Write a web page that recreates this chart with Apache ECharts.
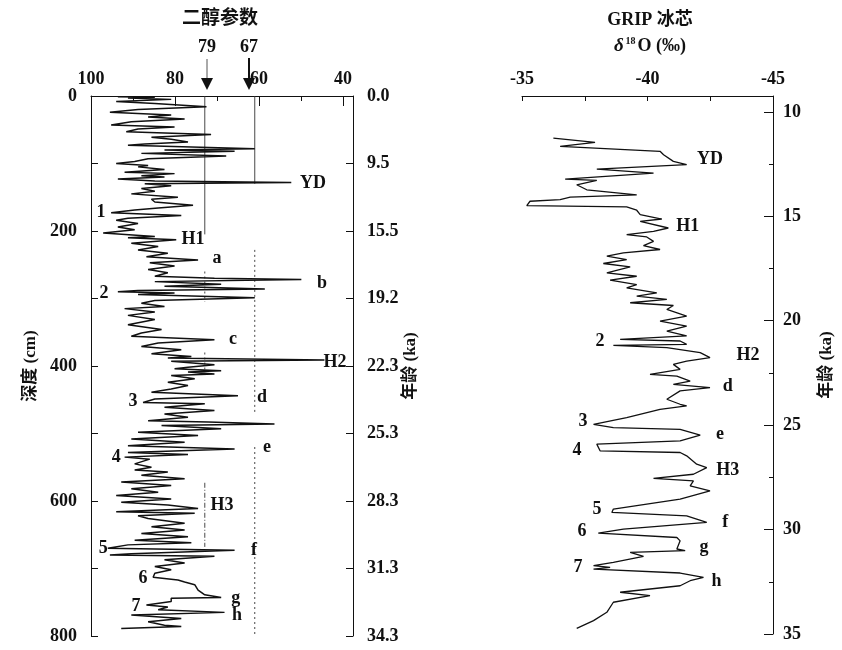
<!DOCTYPE html>
<html><head><meta charset="utf-8">
<script src="https://cdn.jsdelivr.net/npm/echarts@6.0.0/dist/echarts.min.js"></script>
<style>html,body{margin:0;padding:0;background:#fff}#c{width:842px;height:650px}</style>
</head><body><div id="c"></div>
<script>
// ---- Left panel: diol parameter vs depth ----
const diolDepth = [1,2,3,5,8,11,16,20,24,28,31,34,38,43,46,49,53,57,61,64,68,71,73,78,80,82,85,89,93,97,
100,103,105,109,113,115,118,120,123,126,128,130,133,137,141,145,150,153,157,162,166,169,173,177,181,184,189,194,198,
203,208,210,213,218,223,228,233,238,243,247,252,257,262,267,270,272,275,279,282,286,288,290,292,294,299,
303,307,312,315,320,325,331,339,346,351,356,361,366,371,376,382,386,388,391,393,398,
402,404,407,409,412,414,419,424,429,434,439,444,449,454,456,461,466,471,476,481,483,486,488,493,498,
503,508,513,518,523,528,531,535,538,545,550,554,557,562,567,572,577,582,587,592,597,
602,606,611,616,618,622,626,633,638,643,648,653,658,662,665,670,673,678,680,682,687,692,697,
702,707,713,717,720,724,732,739,743,744,749,754,757,761,765,769,774,779,784,786,789];
const diolValue = [93.6,84.8,91.2,80.9,94,84.8,72.5,88.8,95.5,80.9,86.4,77.7,90.4,95.2,80.1,88.8,91.6,71.4,85.6,80.9,76.9,87.2,91.2,61.0,82.5,65.8,88,67.8,86.4,89.6,
94,86.4,88.8,82.5,92,80.1,88,82.5,93.6,84.8,52.3,87.2,80.9,88,84.8,90.4,79.3,85.6,84.8,75.7,84,89.6,95.2,78.5,91.2,94,88.8,93.6,89.6,
97.1,84.8,91.2,79.7,90.4,84,88.8,81.7,86.8,74.5,86,80.1,86.4,81.7,84.8,70.6,49.9,84.8,69,82.5,58.6,88.8,93.6,80.1,88.8,61,
84.8,88,82.5,92,84.8,91.2,84.8,91.2,83.2,88,90.4,70.6,84,88,78.5,85.6,76.1,81.7,44.4,80.9,70.6,
76.9,80.1,69,76.9,70.6,80.9,75.3,81.7,76.9,80.9,85.6,65,84.8,87.6,72.9,82.5,70.6,82.5,76.9,86.4,72.1,56.3,83.2,69,88.8,
74.5,90.4,77.7,91.2,65.8,91.2,76.9,92,86,89.6,85.6,89.6,81.7,88,77.7,92.8,80.9,90.4,84,94,80.9,
92.8,81.7,74.5,94,75.3,88.8,86.4,77.7,85.6,77.7,88,76.9,89.6,76.1,91.2,96,65.8,90.4,95.5,70.6,82.5,77.7,84.8,
80.9,84.8,85.2,79.3,77.7,75.3,74.5,72.9,69,80.9,80.9,86.8,81.7,84,68.2,90.4,78.5,86.4,82.5,78.5,92.8];
const depthTicks = [0,100,200,300,400,500,600,700,800];
const ageTickLabels = ['0.0','9.5','15.5','19.2','22.3','25.3','28.3','31.3','34.3'];
const diolMajorTicks = [100,80,60,40];
const diolMinorTicks = [90,70,50];
const thresholdNames = ['79','67'];
// threshold guide segments: [axis value, depth from, depth to, line type]
const thresholdSegments = [
  [72.9,0,205,'solid'],[72.9,260,305,'dotted'],[72.9,380,405,'dotted'],[72.9,573,668,'dashed'],
  [61.0,0,130,'solid'],[61.0,228,470,'dotted'],[61.0,520,800,'dotted']
];
const leftNotes = [['YD',47.1,129],['1',97.6,173],['H1',75.7,213],['a',70,241],['b',45,277],['2',96.9,292],
  ['c',66.2,361],['H2',41.9,394],['d',59.3,446],['3',90,453],['e',58.1,520],['4',94,535],['H3',68.8,607],
  ['5',97.1,670],['f',61.2,673],['6',87.6,714],['g',65.5,744],['7',89.3,756],['h',65.2,769]];

// ---- Right panel: GRIP ice core d18O vs age ----
const gripAge = [11.26,11.46,11.65,11.89,12.05,12.37,12.53,12.74,12.93,13.22,13.28,13.49,13.73,13.97,14.08,14.2,14.28,14.49,14.55,14.71,14.92,
15.13,15.24,15.56,15.72,15.88,15.99,16.2,16.4,16.59,16.75,16.91,17.07,17.26,17.42,17.71,17.87,18.06,18.27,18.43,18.67,18.82,18.98,19.14,19.27,
19.46,19.78,20.02,20.26,20.5,20.73,20.89,20.97,21.13,21.18,21.29,21.53,21.77,21.93,22.09,22.33,22.57,22.65,22.89,23.05,23.2,23.36,23.76,24.0,24.08,24.24,
24.64,24.96,25.12,25.2,25.48,25.75,25.91,26.23,26.31,26.47,26.87,27.03,27.35,27.55,27.67,27.91,28.15,28.54,29.02,29.18,29.34,29.66,29.98,30.17,30.38,
30.54,30.93,31.01,31.09,31.28,31.57,31.73,31.81,31.89,32.08,32.29,32.45,32.69,33.0,33.16,33.48,33.96,34.36,34.73];
const gripD18O = [-36.25,-37.91,-36.52,-40.5,-40.64,-41.03,-41.56,-37.98,-40.24,-36.72,-37.98,-37.18,-37.58,-39.57,-36.92,-36.52,-35.32,-35.19,-39.17,-39.57,-39.71,
-40.57,-39.71,-40.83,-40.24,-39.17,-39.97,-40.24,-39.84,-40.5,-39.04,-38.38,-39.17,-38.24,-39.31,-38.38,-39.57,-38.51,-39.57,-39.17,-40.37,-39.57,-40.77,-39.31,-41.03,
-40.77,-41.56,-40.5,-41.56,-40.77,-41.56,-38.91,-41.3,-41.56,-38.64,-40.77,-42.1,-42.49,-41.56,-41.03,-41.3,-40.1,-41.17,-41.7,-41.03,-42.49,-41.3,-40.77,-41.3,-41.56,-40.5,
-39.17,-37.85,-38.64,-41.3,-42.1,-41.3,-37.98,-38.11,-41.3,-41.56,-41.96,-42.36,-41.83,-40.24,-41.83,-41.7,-42.49,-41.3,-38.64,-38.58,-41.56,-42.36,-39.04,-38.04,-41.17,
-41.3,-41.17,-41.5,-39.31,-39.84,-38.64,-37.85,-38.51,-37.85,-41.3,-42.23,-41.7,-41.3,-38.91,-40.1,-38.64,-38.38,-37.85,-37.18];
const gripXLabels = [-35,-40,-45];
const ageMajorTicks = [10,15,20,25,30,35];
const ageMinorTicks = [12.5,17.5,22.5,27.5,32.5];
const rightNotes = [['YD',-42.49,12.29],['1',-34.72,14.59],['H1',-41.6,15.5],['2',-38.11,21.0],['H2',-44.0,21.65],
  ['d',-43.2,23.15],['3',-37.43,24.82],['e',-42.89,25.44],['4',-37.19,26.21],['H3',-43.2,27.16],['5',-37.99,29.02],
  ['f',-43.1,29.65],['6',-37.39,30.08],['g',-42.25,30.84],['7',-37.23,31.8],['h',-42.75,32.47]];

const SERIF = "'Liberation Serif','Noto Sans CJK SC',serif";
const INK = '#111';
const lbl = {fontFamily: SERIF, fontWeight: 'bold', fontSize: 18, color: INK};

const chart = echarts.init(document.getElementById('c'), null, {renderer: 'canvas'});

const noteLabel = Object.assign({show: true, position: [0, 0], align: 'center', verticalAlign: 'middle',
  formatter: p => p.name, textBorderWidth: 0, opacity: 1}, lbl);

const series = [];
series.push({
  type: 'line', xAxisIndex: 0, yAxisIndex: 0, showSymbol: false, symbol: 'none', silent: true,
  lineStyle: {color: INK, width: 1.5}, data: diolDepth.map((d, i) => [diolValue[i], d]), z: 3
});
thresholdSegments.forEach(s => {
  series.push({
    type: 'line', xAxisIndex: 0, yAxisIndex: 0, symbol: 'none', silent: true,
    lineStyle: {color: '#333', width: 0.9, type: s[3] === 'dashed' ? [5, 2, 1, 2] : (s[3] === 'dotted' ? [2, 3] : 'solid')},
    data: [[s[0], s[1]], [s[0], s[2]]], z: 2
  });
});
series.push({
  type: 'scatter', xAxisIndex: 0, yAxisIndex: 0, symbolSize: 0, silent: true,
  itemStyle: {color: INK, opacity: 1},
  label: noteLabel, z: 5,
  data: leftNotes.map(n => ({name: n[0], value: [n[1], n[2]]}))
});
series.push({
  type: 'line', xAxisIndex: 2, yAxisIndex: 2, showSymbol: false, symbol: 'none', silent: true,
  lineStyle: {color: INK, width: 1.3}, data: gripAge.map((a, i) => [gripD18O[i], a])
});
series.push({
  type: 'scatter', xAxisIndex: 2, yAxisIndex: 2, symbolSize: 0, silent: true,
  itemStyle: {color: INK, opacity: 1},
  label: noteLabel, z: 5,
  data: rightNotes.map(n => ({name: n[0], value: [n[1], n[2]]}))
});

const axLine = {show: true, lineStyle: {color: INK, width: 1}};

chart.setOption({
  animation: false,
  backgroundColor: '#fff',
  grid: [
    {left: 91, top: 96, width: 262, height: 540},
    {left: 522, top: 96, width: 251, height: 538}
  ],
  xAxis: [
    {gridIndex: 0, type: 'value', position: 'top', min: 37.6, max: 100, inverse: true,
     axisLine: axLine, splitLine: {show: false},
     axisTick: {inside: true, length: 10, customValues: diolMajorTicks, lineStyle: {color: INK}},
     axisLabel: Object.assign({customValues: diolMajorTicks, margin: 8}, lbl)},
    {gridIndex: 0, type: 'value', position: 'top', min: 37.6, max: 100, inverse: true,
     axisLine: {show: false}, splitLine: {show: false},
     axisTick: {inside: true, length: 5, customValues: diolMinorTicks, lineStyle: {color: INK}},
     axisLabel: {show: false}},
    {gridIndex: 1, type: 'value', position: 'top', min: -45, max: -35, interval: 2.5, inverse: true,
     axisLine: axLine, splitLine: {show: false},
     axisTick: {inside: true, length: 5, lineStyle: {color: INK}},
     axisLabel: Object.assign({customValues: gripXLabels, margin: 8}, lbl)}
  ],
  yAxis: [
    {gridIndex: 0, type: 'value', position: 'left', min: 0, max: 800, interval: 100, inverse: true,
     axisLine: axLine, splitLine: {show: false},
     axisTick: {inside: true, length: 7, lineStyle: {color: INK}},
     axisLabel: Object.assign({margin: 14, formatter: v => (v % 200 === 0 ? String(v) : '')}, lbl),
     name: '深度 (cm)', nameLocation: 'middle', nameRotate: 90, nameGap: 52,
     nameTextStyle: {fontFamily: SERIF, fontWeight: 'bold', fontSize: 17, color: INK}},
    {gridIndex: 0, type: 'value', position: 'right', min: 0, max: 800, interval: 100, inverse: true,
     axisLine: axLine, splitLine: {show: false},
     axisTick: {inside: true, length: 7, lineStyle: {color: INK}},
     axisLabel: Object.assign({margin: 14, formatter: v => ageTickLabels[depthTicks.indexOf(v)] || ''}, lbl),
     name: '年龄 (ka)', nameLocation: 'middle', nameRotate: 90, nameGap: 47,
     nameTextStyle: {fontFamily: SERIF, fontWeight: 'bold', fontSize: 17, color: INK}},
    {gridIndex: 1, type: 'value', position: 'right', min: 9.24, max: 35, inverse: true,
     axisLine: axLine, splitLine: {show: false},
     axisTick: {inside: true, length: 9, customValues: ageMajorTicks, lineStyle: {color: INK}},
     axisLabel: Object.assign({margin: 10, customValues: ageMajorTicks}, lbl),
     name: '年龄 (ka)', nameLocation: 'middle', nameRotate: 90, nameGap: 45,
     nameTextStyle: {fontFamily: SERIF, fontWeight: 'bold', fontSize: 17, color: INK}},
    {gridIndex: 1, type: 'value', position: 'right', min: 9.24, max: 35, inverse: true,
     axisLine: {show: false}, splitLine: {show: false},
     axisTick: {inside: true, length: 4, customValues: ageMinorTicks, lineStyle: {color: INK}},
     axisLabel: {show: false}}
  ],
  graphic: [
    {type: 'text', position: [220, 17], style: {text: '二醇参数', align: 'center', verticalAlign: 'middle',
      font: "bold 19px 'Noto Sans CJK SC'", fill: INK}},
    {type: 'text', position: [207, 47], style: {text: thresholdNames[0], align: 'center', verticalAlign: 'middle',
      font: "bold 18px 'Liberation Serif'", fill: INK}},
    {type: 'text', position: [249, 47], style: {text: thresholdNames[1], align: 'center', verticalAlign: 'middle',
      font: "bold 18px 'Liberation Serif'", fill: INK}},
    {type: 'line', shape: {x1: 207, y1: 59, x2: 207, y2: 78}, style: {stroke: '#555', lineWidth: 1}},
    {type: 'polygon', shape: {points: [[201, 78], [213, 78], [207, 90]]}, style: {fill: INK}},
    {type: 'line', shape: {x1: 249, y1: 58, x2: 249, y2: 78}, style: {stroke: INK, lineWidth: 2}},
    {type: 'polygon', shape: {points: [[243, 78], [255, 78], [249, 90]]}, style: {fill: INK}},
    {type: 'text', position: [650, 20], style: {text: 'GRIP 冰芯', align: 'center', verticalAlign: 'middle',
      font: "bold 18px 'Liberation Serif','Noto Sans CJK SC'", fill: INK}},
    {type: 'text', position: [650, 46], style: {
      text: '{d|δ}{s|18}{n|O (‰)}', align: 'center', verticalAlign: 'middle',
      rich: {
        d: {fontFamily: 'Liberation Serif', fontStyle: 'italic', fontWeight: 'bold', fontSize: 19, fill: INK, verticalAlign: 'bottom'},
        s: {fontFamily: 'Liberation Serif', fontWeight: 'bold', fontSize: 10, fill: INK, verticalAlign: 'top', padding: [0, 2, 8, 2]},
        n: {fontFamily: 'Liberation Serif', fontWeight: 'bold', fontSize: 18, fill: INK, verticalAlign: 'bottom'}
      }}}
  ],
  series: series
});
</script>
</body></html>
